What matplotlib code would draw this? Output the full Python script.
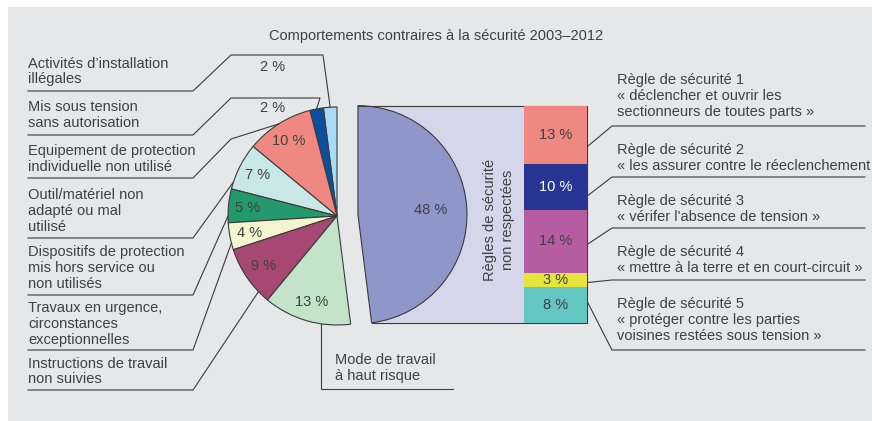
import numpy as np
import matplotlib
matplotlib.use('Agg')
import matplotlib.pyplot as plt
from matplotlib.patches import Rectangle, Polygon

plt.rcParams['font.family'] = ['Liberation Sans', 'DejaVu Sans']

W, H = 872, 421
TXT = '#404040'
LINE = '#3b3b3b'
FS = 10.5

title = 'Comportements contraires à la sécurité 2003–2012'

# causes, from the top of the pie going counter-clockwise; the last one is exploded
cause_labels = [
    'Activités d\u2019installation\nillégales',
    'Mis sous tension\nsans autorisation',
    'Equipement de protection\nindividuelle non utilisé',
    'Outil/matériel non\nadapté ou mal\nutilisé',
    'Dispositifs de protection\nmis hors service ou\nnon utilisés',
    'Travaux en urgence,\ncirconstances\nexceptionnelles',
    'Instructions de travail\nnon suivies',
    'Mode de travail\nà haut risque',
    'Règles de sécurité\nnon respectées',
]
cause_pct = [2, 2, 10, 7, 5, 4, 9, 13, 48]
cause_colors = ['#a9dcf4', '#0b4f9f', '#ef8881', '#c9e7e7', '#24996d',
                '#f3f5cf', '#a74773', '#c3e4c9', '#8f96c9']

# breakdown of the 48 % (top to bottom)
rule_labels = [
    'Règle de sécurité 1\n« déclencher et ouvrir les\nsectionneurs de toutes parts »',
    'Règle de sécurité 2\n« les assurer contre le réeclenchement',
    'Règle de sécurité 3\n« vérifer l\'absence de tension »',
    'Règle de sécurité 4\n« mettre à la terre et en court-circuit »',
    'Règle de sécurité 5\n« protéger contre les parties\nvoisines restées sous tension »',
]
rule_pct = [13, 10, 14, 3, 8]
rule_colors = ['#ef8881', '#283593', '#b65ca2', '#e7e53b', '#63c6c2']


def Y(y):
    # pixel row (from top) -> axes coordinate (from bottom)
    return H - y


fig = plt.figure(figsize=(W / 100, H / 100), dpi=100)
ax = fig.add_axes([0, 0, 1, 1])

cx, cy, R = 337, Y(216), 109
wedges, _ = ax.pie(cause_pct, colors=cause_colors, startangle=90, counterclock=True,
                   radius=R, center=(cx, cy),
                   wedgeprops=dict(edgecolor=LINE, linewidth=0.8, zorder=2))
ax.set_xlim(0, W)
ax.set_ylim(0, H)
ax.set_aspect('auto')
ax.axis('off')

# pull the big slice out to the right
w48 = wedges[-1]
thm = np.radians((w48.theta1 + w48.theta2) / 2)
w48.set_center((cx + 21 * np.cos(thm), cy + 21 * np.sin(thm)))
ex, ey = w48.center

# panel background
ax.add_patch(Rectangle((8, 0), W - 8, Y(7), facecolor='#e6e7e9', edgecolor='none', zorder=0))

# lavender box behind the exploded slice
bar_x0, bar_x1 = 524, 587
t1 = np.radians(w48.theta1)
end = (ex + R * np.cos(t1), ey + R * np.sin(t1))
top, bottom = ey + R, end[1]
ax.add_patch(Polygon([(ex, top), (bar_x0, top), (bar_x0, bottom), end, (ex, ey)],
                     closed=True, facecolor='#d5d6ea', edgecolor='none', zorder=1))
ax.plot([ex, bar_x1, bar_x1, end[0]], [top, top, bottom, bottom], color=LINE, lw=0.8, zorder=5)

# percentages in the pie
for i, w in enumerate(wedges):
    if cause_pct[i] <= 2:
        continue
    a = np.radians((w.theta1 + w.theta2) / 2)
    d = 0.67 if i == len(wedges) - 1 else 0.82
    ax.text(w.center[0] + d * R * np.cos(a), w.center[1] + d * R * np.sin(a),
            f'{cause_pct[i]} %', ha='center', va='center', fontsize=FS, color=TXT, zorder=4)
ax.text(273, Y(67), f'{cause_pct[0]} %', ha='center', va='center', fontsize=FS, color=TXT)
ax.text(273, Y(108), f'{cause_pct[1]} %', ha='center', va='center', fontsize=FS, color=TXT)

ax.text(499, Y(220), cause_labels[-1], rotation=90, ha='center', va='center',
        multialignment='center', fontsize=FS, color=TXT, linespacing=1.35, zorder=4)

ax.text(436, Y(36), title, ha='center', va='center', fontsize=FS, color=TXT)

# left labels with leaders
left_mid = [71.5, 115, 159, 211, 268, 324, 371.5]
left_ul = [91, 135, 178, 238, 295, 350, 390]
elbows = [[(231, 55), (323, 55)], [(231, 98), (320, 98)], [(231, 139)], [], [], [], []]
attach = [0.5, 0.5, 0.5, 0.85, 0.8, 0.75, 0.8]


def arc_point(w, f):
    a = np.radians(w.theta1 + f * (w.theta2 - w.theta1))
    return w.center[0] + R * np.cos(a), w.center[1] + R * np.sin(a)


for i in range(7):
    ax.text(28, Y(left_mid[i]), cause_labels[i], ha='left', va='center',
            fontsize=FS, color=TXT, linespacing=1.15)
    pts = [(28, left_ul[i]), (193, left_ul[i])] + elbows[i]
    xs = [p[0] for p in pts]
    ys = [Y(p[1]) for p in pts]
    px, pyy = arc_point(wedges[i], attach[i])
    ax.plot(xs + [px], ys + [pyy], color=LINE, lw=0.8, zorder=3)

# bottom label
px, pyy = arc_point(wedges[7], 0.67)
ax.plot([px, px, 453], [pyy, Y(389), Y(389)], color=LINE, lw=0.8, zorder=3)
ax.text(335, Y(368), cause_labels[7], ha='left', va='center', fontsize=FS,
        color=TXT, linespacing=1.15)

# stacked bar of the 48 %
ax2 = fig.add_axes([bar_x0 / W, bottom / H, (bar_x1 - bar_x0) / W, (top - bottom) / H])
starts = np.concatenate([[0], np.cumsum(rule_pct)[:-1]])
ax2.bar(0, rule_pct, bottom=starts, width=1, color=rule_colors, edgecolor='none')
ax2.set_xlim(-0.5, 0.5)
ax2.set_ylim(sum(rule_pct), 0)
ax2.axis('off')
for i, v in enumerate(rule_pct):
    ax2.text(0, starts[i] + v / 2, f'{v} %', ha='center', va='center', fontsize=FS,
             color='white' if i == 1 else TXT)

# right labels with leaders
right_mid = [96, 158, 209, 260, 320]
right_ul = [126, 177, 228, 280, 350]
rule_anchor = [0.7, 0.7, 0.55, 0.7, 0.4]
total = sum(rule_pct)
for i in range(5):
    ya = top - (starts[i] + rule_anchor[i] * rule_pct[i]) / total * (top - bottom)
    ax.plot([bar_x1, 612, 865], [ya, Y(right_ul[i]), Y(right_ul[i])], color=LINE, lw=0.8)
    ax.text(617, Y(right_mid[i]), rule_labels[i], ha='left', va='center', fontsize=FS,
            color=TXT, linespacing=1.15)

fig.savefig('out.png', dpi=100, facecolor='white')
